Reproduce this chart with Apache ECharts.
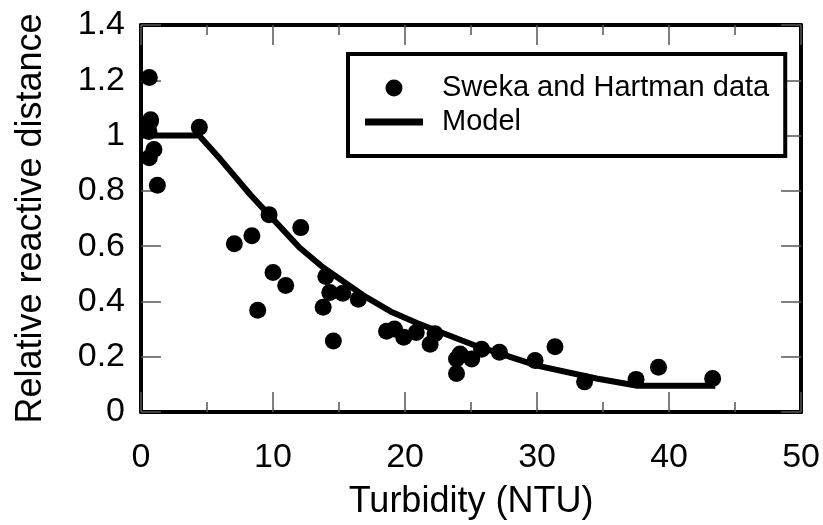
<!DOCTYPE html>
<html>
<head>
<meta charset="utf-8">
<script src="https://cdn.jsdelivr.net/npm/echarts@6/dist/echarts.min.js"></script>
<style>
    html, body { margin: 0; padding: 0; background: #fff; }
    #chart { width: 823px; height: 525px; }
</style>
</head>
<body>
<div id="chart"></div>
<script>
    // Sweka and Hartman observations
    var turbidity = [0.63, 0.73, 0.7, 0.6, 0.98, 0.63, 1.24, 4.42, 7.07, 8.4, 9.7, 12.1, 10.0, 10.96,
        8.84, 14.0, 13.8, 14.3, 15.28, 16.46, 14.57, 18.6, 19.2, 19.9, 20.85, 22.27, 21.9, 23.9,
        23.9, 24.17, 25.05, 25.8, 27.15, 29.85, 31.36, 33.6, 37.5, 39.2, 43.3];
    var relDistance = [1.21, 1.057, 1.05, 1.015, 0.95, 0.92, 0.82, 1.03, 0.609, 0.638, 0.714, 0.667, 0.505, 0.458,
        0.368, 0.49, 0.379, 0.432, 0.43, 0.408, 0.257, 0.292, 0.3, 0.27, 0.288, 0.283, 0.245, 0.192,
        0.139, 0.21, 0.192, 0.227, 0.216, 0.186, 0.236, 0.109, 0.118, 0.162, 0.121];

    // model curve
    var modelX = [0, 4.4, 6, 8.3, 9.7, 12, 13.8, 16.8, 18.9, 20.9, 25.4, 30, 34.5, 37.6, 43.5];
    var modelY = [1.0, 1.0, 0.915, 0.785, 0.713, 0.595, 0.523, 0.423, 0.364, 0.322, 0.239, 0.168, 0.121, 0.095, 0.095];

    var xTicks = [0, 10, 20, 30, 40, 50];
    var yTicks = [0, 0.2, 0.4, 0.6, 0.8, 1, 1.2, 1.4];

    var font = 'Liberation Sans, Arial, sans-serif';
    var tickStyle = { color: '#555', width: 1.5 };
    var frame = { color: '#000', width: 4 };
    // thick bar for the model legend entry (corner dots keep the bar at its own height)
    var lineIcon = 'path://M0,0L0.01,0L0,0.01Z M0,5L58,5L58,12L0,12Z M58,17L57.99,17L58,16.99Z';

    var chart = echarts.init(document.getElementById('chart'));

    function xAxisOpt(pos, withLabels) {
        return {
            type: 'value',
            position: pos,
            min: xTicks[0],
            max: xTicks[xTicks.length - 1],
            interval: 10,
            axisLine: { show: true, onZero: false, lineStyle: frame },
            axisTick: { show: true, inside: true, length: 20, lineStyle: tickStyle },
            minorTick: { show: true, splitNumber: 2, length: 10, lineStyle: tickStyle },
            splitLine: { show: false },
            axisLabel: {
                show: withLabels, color: '#000', fontSize: 34, fontFamily: font, margin: 29,
                showMinLabel: true, showMaxLabel: true
            },
            name: withLabels ? 'Turbidity (NTU)' : '',
            nameLocation: 'middle',
            nameGap: 72,
            nameTextStyle: { color: '#000', fontSize: 36, fontFamily: font }
        };
    }

    function yAxisOpt(pos, withLabels) {
        return {
            type: 'value',
            position: pos,
            min: yTicks[0],
            max: yTicks[yTicks.length - 1],
            interval: 0.2,
            axisLine: { show: true, onZero: false, lineStyle: frame },
            axisTick: { show: true, inside: true, length: 20, lineStyle: tickStyle },
            splitLine: { show: false },
            axisLabel: {
                show: withLabels, color: '#000', fontSize: 34, fontFamily: font, margin: 16,
                formatter: function (v) { return String(Math.round(v * 10) / 10); }
            },
            name: withLabels ? 'Relative reactive distance' : '',
            nameLocation: 'middle',
            nameGap: 92,
            nameTextStyle: { color: '#000', fontSize: 36, fontFamily: font }
        };
    }

    var scatterData = turbidity.map(function (x, i) { return [x, relDistance[i]]; });
    var modelData = modelX.map(function (x, i) { return [x, modelY[i]]; });

    chart.setOption({
        animation: false,
        backgroundColor: '#fff',
        grid: { left: 141, top: 25, width: 661, height: 394, containLabel: false },
        xAxis: [xAxisOpt('bottom', true), xAxisOpt('top', false)],
        yAxis: [yAxisOpt('left', true), yAxisOpt('right', false)],
        legend: {
            orient: 'vertical',
            left: 348,
            top: 54,
            padding: [19, 16, 19, 17],
            itemGap: 4,
            itemWidth: 58,
            itemHeight: 17,
            borderColor: '#000',
            borderWidth: 4,
            backgroundColor: '#fff',
            textStyle: { color: '#000', fontSize: 29, fontFamily: font, lineHeight: 30, padding: [0, 0, 0, 14] },
            data: [
                { name: 'Sweka and Hartman data', icon: 'circle' },
                { name: 'Model', icon: lineIcon, itemStyle: { color: '#000', borderWidth: 0 } }
            ]
        },
        series: [
            {
                name: 'Model',
                type: 'line',
                data: modelData,
                symbol: 'none',
                showSymbol: false,
                smooth: false,
                lineStyle: { color: '#000', width: 6 },
                itemStyle: { color: '#000' },
                z: 2
            },
            {
                name: 'Sweka and Hartman data',
                type: 'scatter',
                data: scatterData,
                symbol: 'circle',
                symbolSize: 17,
                itemStyle: { color: '#000', opacity: 1 },
                z: 3
            }
        ]
    });
</script>
</body>
</html>
